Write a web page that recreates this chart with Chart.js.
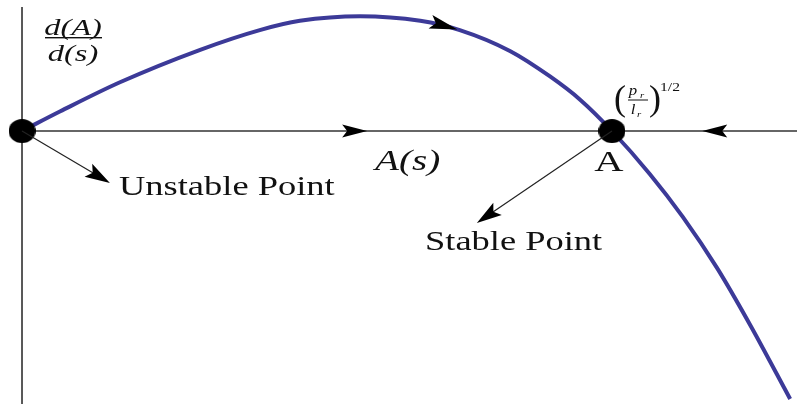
<!DOCTYPE html>
<html>
<head>
<meta charset="utf-8">
<script src="https://cdn.jsdelivr.net/npm/chart.js@4"></script>
<style>
  html, body { margin: 0; padding: 0; background: #fff; }
  #wrap { width: 797px; height: 404px; }
</style>
</head>
<body>
<div id="wrap"><canvas id="phaseChart"></canvas></div>
<script>
// A(s) with the stable point scaled to 1, and the growth rate d(A)/d(s)
const aValues    = [0, 0.065, 0.166, 0.302, 0.403, 0.471, 0.573, 0.675, 0.742, 0.827, 0.895, 0.946, 1.0, 1.064, 1.120, 1.178, 1.234, 1.302];
const rateValues = [0, 0.17,  0.42,  0.70,  0.87,  0.95,  0.99,  0.95,  0.87,  0.69,  0.47,  0.27,  0,   -0.37, -0.74, -1.18, -1.67, -2.31];

// fixed points of the flow (unstable at 0, stable at A)
const fixedA    = [0, 1];
const fixedRate = [0, 0];

// extent of the drawn axes
const axisA    = [0, 1.3136];
const axisRate = [-2.3534, 1.07];

const curveColor = '#3c3a98';
const inkColor = '#111';
const serif = '"Liberation Serif", "DejaVu Serif", serif';

function makeDot(w, h) {
  const c = document.createElement('canvas');
  c.width = w;
  c.height = h;
  const g = c.getContext('2d');
  g.fillStyle = '#000';
  g.beginPath();
  g.ellipse(w / 2, h / 2, w / 2, h / 2, 0, 0, Math.PI * 2);
  g.fill();
  return c;
}

// barbed arrow head, tip at (x, y)
function arrowHead(ctx, x, y, angle, len, half) {
  ctx.save();
  ctx.translate(x, y);
  ctx.rotate(angle);
  ctx.beginPath();
  ctx.moveTo(0, 0);
  ctx.lineTo(-len, -half);
  ctx.lineTo(-len * 0.8, 0);
  ctx.lineTo(-len, half);
  ctx.closePath();
  ctx.fill();
  ctx.restore();
}

function text(ctx, str, x, y, font, align, sx) {
  ctx.save();
  ctx.font = font;
  ctx.textAlign = align || 'left';
  ctx.textBaseline = 'alphabetic';
  ctx.translate(x, y);
  ctx.scale(sx || 1.35, 1);
  ctx.fillText(str, 0, 0);
  ctx.restore();
}

const annotations = {
  id: 'annotations',
  afterDatasetsDraw(chart) {
    const ctx = chart.ctx;
    const px = v => chart.scales.x.getPixelForValue(v);
    const py = v => chart.scales.y.getPixelForValue(v);
    ctx.save();
    ctx.fillStyle = '#000';

    // flow direction on the A(s) axis
    arrowHead(ctx, px(0.585), py(0), 0, 25, 6.5);
    arrowHead(ctx, px(1.153), py(0), Math.PI, 25, 6.5);

    // flow direction along the curve
    const t0 = [px(0.70), py(0.93)];
    const t1 = [px(0.738), py(0.875)];
    arrowHead(ctx, t1[0], t1[1], Math.atan2(t1[1] - t0[1], t1[0] - t0[0]), 28, 7);

    // pointers from the fixed points to their labels
    const pointers = [
      [px(0), py(0), px(0.149), py(-0.448)],
      [px(1), py(0), px(0.771), py(-0.793)]
    ];
    ctx.strokeStyle = '#222';
    ctx.lineWidth = 1.2;
    pointers.forEach(([x0, y0, x1, y1]) => {
      const ang = Math.atan2(y1 - y0, x1 - x0);
      ctx.beginPath();
      ctx.moveTo(x0, y0);
      ctx.lineTo(x1 - 15 * Math.cos(ang), y1 - 15 * Math.sin(ang));
      ctx.stroke();
      arrowHead(ctx, x1, y1, ang, 25, 7.5);
    });

    ctx.fillStyle = inkColor;
    text(ctx, 'Unstable Point', 119, 195, '27px ' + serif);
    text(ctx, 'Stable Point', 425, 250, '27px ' + serif);
    text(ctx, 'A(s)', 375, 170, 'italic 29px ' + serif);
    text(ctx, 'A', px(1) - 3, 171, '30px ' + serif, 'center');

    // d(A)/d(s)
    text(ctx, 'd(A)', 73, 35, 'italic 24px ' + serif, 'center');
    text(ctx, 'd(s)', 73, 61, 'italic 24px ' + serif, 'center');
    ctx.fillRect(45, 37, 57, 1.4);

    // (p_r / l_r)^(1/2)
    text(ctx, '(', 620, 110, '36px ' + serif, 'center', 1);
    text(ctx, ')', 655, 110, '36px ' + serif, 'center', 1);
    text(ctx, 'p', 633, 95, 'italic 14px ' + serif, 'center', 1.2);
    text(ctx, 'r', 642, 98, 'italic 9px ' + serif, 'center', 1.2);
    text(ctx, 'l', 633, 114, 'italic 14px ' + serif, 'center', 1.2);
    text(ctx, 'r', 639, 117, 'italic 9px ' + serif, 'center', 1.2);
    ctx.fillRect(628, 99.5, 20, 1);
    text(ctx, '1/2', 660, 91, '13px ' + serif, 'left', 1.2);

    ctx.restore();
  }
};

const toPoints = (xs, ys) => xs.map((x, i) => ({ x: x, y: ys[i] }));

new Chart(document.getElementById('phaseChart'), {
  type: 'line',
  data: {
    datasets: [
      {
        label: 'fixed points',
        data: toPoints(fixedA, fixedRate),
        showLine: false,
        pointStyle: makeDot(27, 24),
        pointRadius: 12,
        clip: false
      },
      {
        label: 'd(A)/d(s)',
        data: toPoints(aValues, rateValues),
        borderColor: curveColor,
        borderWidth: 4,
        pointRadius: 0,
        cubicInterpolationMode: 'monotone',
        clip: false
      },
      {
        label: 'A axis',
        data: toPoints(axisA, [0, 0]),
        borderColor: '#333',
        borderWidth: 1.5,
        pointRadius: 0,
        clip: false
      },
      {
        label: 'rate axis',
        data: toPoints([0, 0], axisRate),
        borderColor: '#222',
        borderWidth: 1.5,
        pointRadius: 0,
        clip: false
      }
    ]
  },
  options: {
    responsive: true,
    maintainAspectRatio: false,
    animation: false,
    layout: { padding: 0, autoPadding: false },
    plugins: {
      legend: { display: false },
      tooltip: { enabled: false }
    },
    scales: {
      x: { type: 'linear', display: false, min: -0.0373, max: 1.3136 },
      y: { type: 'linear', display: false, min: -2.3534, max: 1.1293 }
    }
  },
  plugins: [annotations]
});
</script>
</body>
</html>
